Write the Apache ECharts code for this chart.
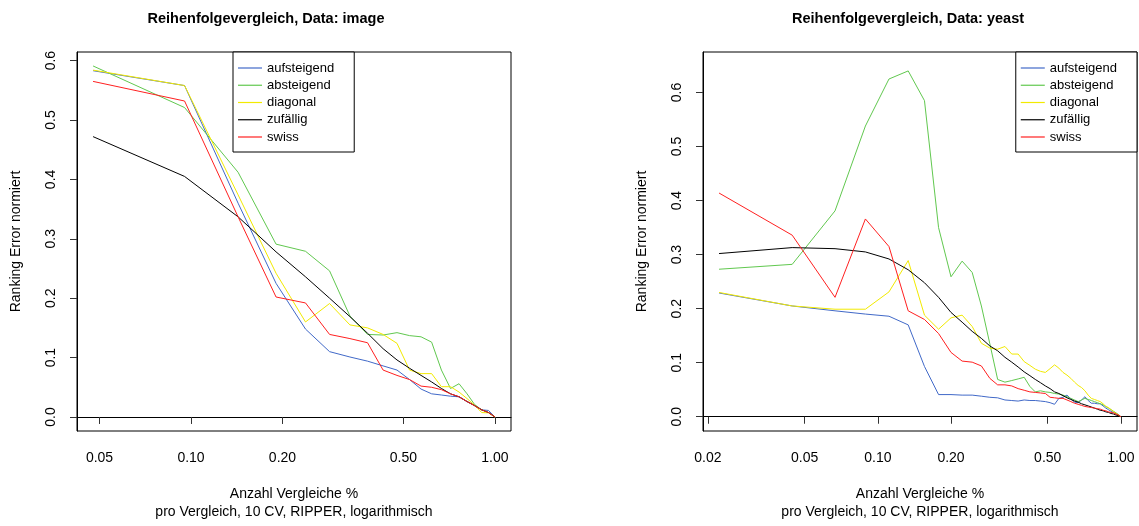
<!DOCTYPE html>
<html>
<head>
<meta charset="utf-8">
<script src="https://cdn.jsdelivr.net/npm/echarts@6/dist/echarts.min.js"></script>
<style>
  html, body { margin: 0; padding: 0; background: #fff; }
  #chart { width: 1139px; height: 526px; }
</style>
</head>
<body>
<div id="chart"></div>
<script>
// Paarvergleiche: image hat 7 Labels (21 Paare), yeast hat 10 Labels (45 Paare)
const imagePairsTotal = 21;
const imagePairsUsed = [1, 2, 3, 4, 5, 6, 7, 8, 9, 10, 11, 12, 13, 14, 15, 16, 17, 18, 19, 20, 21];
const yeastPairsTotal = 45;
const yeastPairsUsed = [1, 2, 3, 4, 5, 6, 7, 8, 9, 10, 11, 12, 13, 14, 15, 16, 17, 18, 19, 20,
  21, 22, 23, 24, 25, 26, 27, 28, 29, 30, 31, 32, 33, 34, 35, 36, 37, 38, 39, 40,
  41, 42, 43, 44, 45];

const seriesNames = ['aufsteigend', 'absteigend', 'diagonal', 'zufällig', 'swiss'];
const seriesColors = ['#4169C8', '#61C84F', '#F2EA00', '#000000', '#FF2020'];

// Data: image
const imageAufsteigend = [0.583, 0.558, 0.360, 0.225, 0.148, 0.110, 0.101, 0.094, 0.086, 0.079, 0.063,
  0.047, 0.039, 0.037, 0.035, 0.034, 0.026, 0.020, 0.012, 0.011, 0.000];
const imageAbsteigend = [0.591, 0.521, 0.412, 0.291, 0.279, 0.246, 0.170, 0.139, 0.138, 0.142, 0.137,
  0.135, 0.126, 0.079, 0.048, 0.056, 0.039, 0.021, 0.012, 0.0075, 0.000];
const imageDiagonal = [0.584, 0.558, 0.374, 0.242, 0.160, 0.191, 0.155, 0.150, 0.139, 0.124, 0.079,
  0.073, 0.073, 0.051, 0.051, 0.042, 0.031, 0.020, 0.0074, 0.007, 0.000];
const imageZufaellig = [0.472, 0.405, 0.337, 0.278, 0.236, 0.200, 0.169, 0.141, 0.115, 0.096, 0.082,
  0.070, 0.059, 0.048, 0.039, 0.034, 0.026, 0.019, 0.012, 0.0075, 0.000];
const imageSwiss = [0.565, 0.532, 0.337, 0.202, 0.192, 0.139, 0.132, 0.125, 0.079, 0.070, 0.063,
  0.052, 0.050, 0.046, 0.039, 0.034, 0.026, 0.019, 0.012, 0.0075, 0.000];

// Data: yeast
const yeastAufsteigend = [0.229, 0.205, 0.196, 0.190, 0.186, 0.170, 0.093, 0.041, 0.041, 0.040,
  0.040, 0.038, 0.036, 0.035, 0.031, 0.030, 0.029, 0.031, 0.030, 0.030,
  0.029, 0.028, 0.026, 0.023, 0.034, 0.036, 0.040, 0.033, 0.027, 0.026,
  0.031, 0.037, 0.030, 0.025, 0.025, 0.024, 0.024, 0.020, 0.016, 0.013,
  0.010, 0.008, 0.005, 0.003, 0.000];
const yeastAbsteigend = [0.273, 0.282, 0.381, 0.538, 0.625, 0.640, 0.585, 0.350, 0.259, 0.288,
  0.267, 0.205, 0.135, 0.069, 0.064, 0.067, 0.070, 0.073, 0.056, 0.046,
  0.048, 0.046, 0.045, 0.043, 0.042, 0.040, 0.037, 0.034, 0.031, 0.028,
  0.031, 0.034, 0.032, 0.030, 0.028, 0.026, 0.024, 0.022, 0.019, 0.016,
  0.013, 0.010, 0.007, 0.004, 0.000];
const yeastDiagonal = [0.230, 0.205, 0.199, 0.199, 0.231, 0.289, 0.188, 0.162, 0.183, 0.188,
  0.167, 0.136, 0.127, 0.125, 0.130, 0.116, 0.116, 0.102, 0.095, 0.088,
  0.084, 0.082, 0.089, 0.096, 0.090, 0.082, 0.077, 0.071, 0.064, 0.058,
  0.054, 0.048, 0.040, 0.034, 0.032, 0.030, 0.028, 0.024, 0.019, 0.017,
  0.013, 0.009, 0.006, 0.003, 0.000];
const yeastZufaellig = [0.302, 0.313, 0.311, 0.305, 0.292, 0.272, 0.248, 0.221, 0.193, 0.175,
  0.158, 0.145, 0.131, 0.122, 0.110, 0.101, 0.092, 0.083, 0.076, 0.069,
  0.063, 0.057, 0.052, 0.046, 0.043, 0.039, 0.035, 0.032, 0.029, 0.027,
  0.024, 0.022, 0.020, 0.018, 0.016, 0.014, 0.012, 0.011, 0.009, 0.008,
  0.006, 0.005, 0.003, 0.002, 0.000];
const yeastSwiss = [0.414, 0.336, 0.221, 0.366, 0.315, 0.196, 0.180, 0.154, 0.119, 0.103,
  0.101, 0.094, 0.071, 0.059, 0.059, 0.057, 0.052, 0.049, 0.046, 0.045,
  0.044, 0.043, 0.036, 0.035, 0.034, 0.034, 0.031, 0.028, 0.025, 0.023,
  0.021, 0.019, 0.018, 0.017, 0.016, 0.015, 0.014, 0.012, 0.011, 0.009,
  0.008, 0.007, 0.005, 0.003, 0.000];

const imageTicksX = [0.05, 0.1, 0.2, 0.5, 1];
const yeastTicksX = [0.02, 0.05, 0.1, 0.2, 0.5, 1];
const ticksY = [0, 0.1, 0.2, 0.3, 0.4, 0.5, 0.6];

const FONT = '"Liberation Sans", Arial, Helvetica, sans-serif';
const xTitle = 'Anzahl Vergleiche %\npro Vergleich, 10 CV, RIPPER, logarithmisch';

function pairs(used, total, values) {
  return used.map((k, i) => [k / total, values[i]]);
}

function xAxisFor(gridIndex, min, max, ticks) {
  return {
    type: 'log', logBase: 10, gridIndex, min, max,
    axisLine: { show: true, lineStyle: { color: '#000', width: 1 } },
    axisTick: { show: true, length: 7, customValues: ticks, lineStyle: { color: '#333' } },
    axisLabel: {
      customValues: ticks, margin: 20, color: '#000', fontSize: 14, fontFamily: FONT,
      formatter: v => Number(v).toFixed(2)
    },
    splitLine: { show: false }, minorTick: { show: false }, minorSplitLine: { show: false },
    name: xTitle, nameLocation: 'middle', nameGap: 54,
    nameTextStyle: { color: '#000', fontSize: 14, fontFamily: FONT, lineHeight: 18 }
  };
}

function yAxisFor(gridIndex, min, max) {
  return {
    type: 'value', gridIndex, min, max,
    axisLine: { show: true, lineStyle: { color: '#000', width: 1 } },
    axisTick: { show: true, length: 7, customValues: ticksY, lineStyle: { color: '#333' } },
    axisLabel: {
      customValues: ticksY, rotate: 90, margin: 19, color: '#000', fontSize: 14, fontFamily: FONT,
      formatter: v => Number(v).toFixed(1)
    },
    splitLine: { show: false },
    name: 'Ranking Error normiert', nameLocation: 'middle', nameGap: 54, nameRotate: 90,
    nameTextStyle: { color: '#000', fontSize: 14, fontFamily: FONT }
  };
}

function legendFor(pos) {
  return Object.assign({
    data: seriesNames, orient: 'vertical', top: 52,
    icon: 'rect', itemWidth: 24, itemHeight: 1.2, itemGap: 3.25,
    padding: [9, 20, 8, 5],
    borderColor: '#000', borderWidth: 1, borderRadius: 0, backgroundColor: '#fff',
    selectedMode: false,
    textStyle: { color: '#000', fontSize: 13, lineHeight: 14, fontFamily: FONT }
  }, pos);
}

const imageValues = [imageAufsteigend, imageAbsteigend, imageDiagonal, imageZufaellig, imageSwiss];
const yeastValues = [yeastAufsteigend, yeastAbsteigend, yeastDiagonal, yeastZufaellig, yeastSwiss];

const series = [];
seriesNames.forEach((name, i) => {
  series.push({
    name, type: 'line', xAxisIndex: 0, yAxisIndex: 0,
    data: pairs(imagePairsUsed, imagePairsTotal, imageValues[i]),
    symbol: 'none', lineStyle: { color: seriesColors[i], width: 1 },
    itemStyle: { color: seriesColors[i] }, z: 2 + i
  });
});
seriesNames.forEach((name, i) => {
  series.push({
    name, type: 'line', xAxisIndex: 1, yAxisIndex: 1,
    data: pairs(yeastPairsUsed, yeastPairsTotal, yeastValues[i]),
    symbol: 'none', lineStyle: { color: seriesColors[i], width: 1 },
    itemStyle: { color: seriesColors[i] }, z: 2 + i
  });
});

const option = {
  animation: false,
  backgroundColor: '#fff',
  title: [
    { text: 'Reihenfolgevergleich, Data: image', left: 261, top: 6, textAlign: 'center',
      textStyle: { fontSize: 14.5, fontWeight: 'bold', color: '#000', fontFamily: FONT } },
    { text: 'Reihenfolgevergleich, Data: yeast', left: 903, top: 6, textAlign: 'center',
      textStyle: { fontSize: 14.5, fontWeight: 'bold', color: '#000', fontFamily: FONT } }
  ],
  legend: [legendFor({ left: 233 }), legendFor({ right: 2 })],
  grid: [
    { left: 77, top: 52, width: 434, height: 379, show: true, borderColor: '#000', borderWidth: 1, containLabel: false },
    { left: 703, top: 52, width: 434, height: 379, show: true, borderColor: '#000', borderWidth: 1, containLabel: false }
  ],
  xAxis: [
    xAxisFor(0, 0.04216, 1.1295, imageTicksX),
    xAxisFor(1, 0.01909, 1.1645, yeastTicksX)
  ],
  yAxis: [
    yAxisFor(0, -0.0236, 0.6145),
    yAxisFor(1, -0.0264, 0.675)
  ],
  series
};

const chart = echarts.init(document.getElementById('chart'), null, { renderer: 'canvas' });
chart.setOption(option);
</script>
</body>
</html>
